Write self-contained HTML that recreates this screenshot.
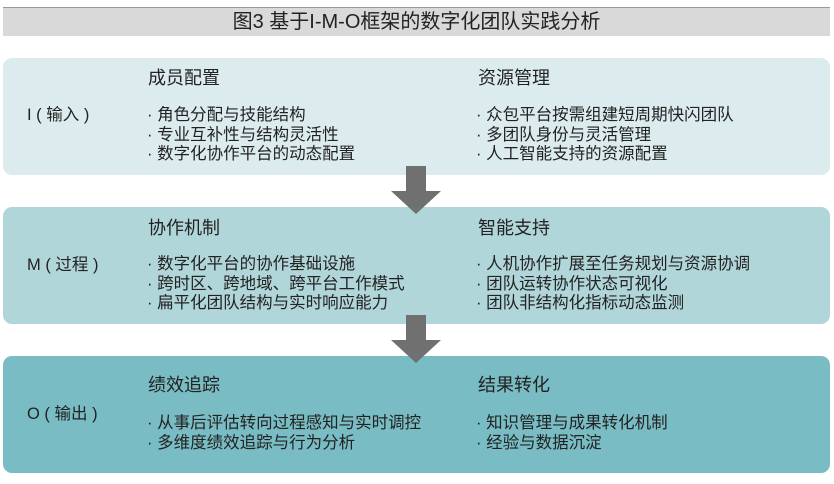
<!DOCTYPE html>
<html><head><meta charset="utf-8"><style>
body{margin:0;width:834px;height:484px;background:#fff;position:relative;overflow:hidden;font-family:"Liberation Sans","Noto Sans CJK SC",sans-serif;color:#222}
.t{position:absolute;left:3px;top:7px;width:827px;height:28px;background:#d9d9d9;text-align:center;font-size:20px;line-height:28px;color:#222;border-top:1px solid #999}
.b{position:absolute;left:3px;width:827px;height:117px;border-radius:9px}
.s{position:absolute;white-space:nowrap;font-size:16.5px;line-height:19.5px}
.h{font-size:18px}
.ar{position:absolute;left:391px;width:50px;height:48px}
</style></head><body>
<div class="t">图3 基于I-M-O框架的数字化团队实践分析</div>
<div class="b" style="top:58px;background:#dcecee"></div>
<div class="b" style="top:207px;background:#b1d6da"></div>
<div class="b" style="top:356px;background:#79bcc4"></div>

<div class="s h" style="left:148px;top:69px">成员配置</div>
<div class="s h" style="left:478px;top:69px">资源管理</div>
<div class="s" style="left:27px;top:106px">I ( 输入 )</div>
<div class="s" style="left:147px;top:106px">· 角色分配与技能结构<br>· 专业互补性与结构灵活性<br>· 数字化协作平台的动态配置</div>
<div class="s" style="left:476px;top:106px">· 众包平台按需组建短周期快闪团队<br>· 多团队身份与灵活管理<br>· 人工智能支持的资源配置</div>

<div class="s h" style="left:148px;top:219px">协作机制</div>
<div class="s h" style="left:478px;top:219px">智能支持</div>
<div class="s" style="left:27px;top:256px">M ( 过程 )</div>
<div class="s" style="left:147px;top:255px">· 数字化平台的协作基础设施<br>· 跨时区、跨地域、跨平台工作模式<br>· 扁平化团队结构与实时响应能力</div>
<div class="s" style="left:476px;top:255px">· 人机协作扩展至任务规划与资源协调<br>· 团队运转协作状态可视化<br>· 团队非结构化指标动态监测</div>

<div class="s h" style="left:148px;top:376px">绩效追踪</div>
<div class="s h" style="left:478px;top:376px">结果转化</div>
<div class="s" style="left:27px;top:405px">O ( 输出 )</div>
<div class="s" style="left:147px;top:414px">· 从事后评估转向过程感知与实时调控<br>· 多维度绩效追踪与行为分析</div>
<div class="s" style="left:476px;top:414px">· 知识管理与成果转化机制<br>· 经验与数据沉淀</div>

<svg class="ar" style="top:166px" viewBox="0 0 50 48"><polygon points="15,0 35,0 35,25 50,25 25,48 0,25 15,25" fill="#707070"/></svg>
<svg class="ar" style="top:315px" viewBox="0 0 50 48"><polygon points="15,0 35,0 35,25 50,25 25,48 0,25 15,25" fill="#707070"/></svg>
</body></html>
